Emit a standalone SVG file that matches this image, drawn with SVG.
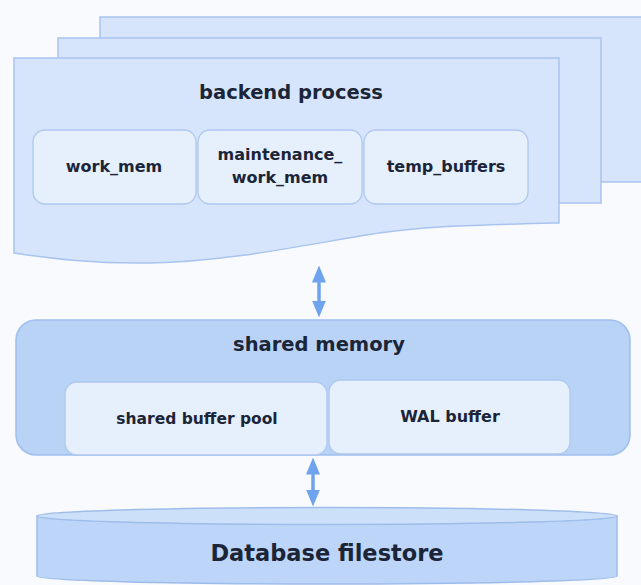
<svg xmlns="http://www.w3.org/2000/svg" width="641" height="585" viewBox="0 0 641 585">
<defs>
<style>
.page{fill:#d6e5fb;stroke:#a9c3ef;stroke-width:1.5}
.box{fill:#e6effc;stroke:#afc8ef;stroke-width:1.3}
.shm{fill:#b9d3f7;stroke:#9fbfec;stroke-width:1.5}
.cyl{fill:#bcd5f8;stroke:#9fbdea;stroke-width:1.5}
.cyltop{fill:#cde0fa;stroke:#9fbdea;stroke-width:1.5}
.t{font-family:"DejaVu Sans",Verdana,sans-serif;font-weight:bold;fill:#1b2537;text-anchor:middle}
.conn{stroke:#6fa3ee;stroke-width:3.5;fill:none}
</style>
<marker id="ah" viewBox="0 0 17 14" refX="0.5" refY="7" markerWidth="17" markerHeight="14" markerUnits="userSpaceOnUse" orient="auto-start-reverse">
<path d="M0,0 L17,7 L0,14 Z" fill="#6fa3ee"/>
</marker>
</defs>
<rect width="641" height="585" fill="#f8fafe"/>
<g id="backend-process">
<rect class="page" x="100" y="17" width="560" height="165"/>
<rect class="page" x="58" y="38" width="543" height="165"/>
<path class="page" d="M14,58 L559,58 L559,223 C470,225 420,226 360,236 C290,248 220,262 150,263 C90,264 50,258 14,253 Z"/>
<text class="t" x="291" y="99" font-size="19.5">backend process</text>
<g id="work_mem">
<rect class="box" x="33" y="130" width="163" height="74" rx="12"/>
<text class="t" x="114" y="172" font-size="16">work_mem</text>
</g>
<g id="maintenance_work_mem">
<rect class="box" x="198" y="130" width="164" height="74" rx="12"/>
<text class="t" x="280" y="160" font-size="16">maintenance_</text>
<text class="t" x="280" y="183" font-size="16">work_mem</text>
</g>
<g id="temp_buffers">
<rect class="box" x="364" y="130" width="164" height="74" rx="12"/>
<text class="t" x="446" y="172" font-size="16">temp_buffers</text>
</g>
</g>
<g id="shared-memory">
<rect class="shm" x="16" y="320" width="614" height="135" rx="20"/>
<text class="t" x="319" y="351" font-size="19.5">shared memory</text>
<g id="shared-buffer-pool">
<rect class="box" x="65" y="382" width="262" height="73" rx="12"/>
<text class="t" x="197" y="424" font-size="15.5">shared buffer pool</text>
</g>
<g id="wal-buffer">
<rect class="box" x="329" y="380" width="241" height="74" rx="12"/>
<text class="t" x="450" y="422" font-size="16">WAL buffer</text>
</g>
</g>
<g id="database-filestore">
<path class="cyl" d="M37,516 L37,576 A290,8 0 0 0 617,576 L617,516 Z"/>
<ellipse class="cyltop" cx="327" cy="516" rx="290" ry="8.5"/>
<text class="t" x="327" y="561" font-size="22.5">Database filestore</text>
</g>
<g id="connectors">
<line class="conn" x1="319" y1="282" x2="319" y2="301" marker-start="url(#ah)" marker-end="url(#ah)"/>
<line class="conn" x1="313" y1="474" x2="313" y2="490" marker-start="url(#ah)" marker-end="url(#ah)"/>
</g>
</svg>
